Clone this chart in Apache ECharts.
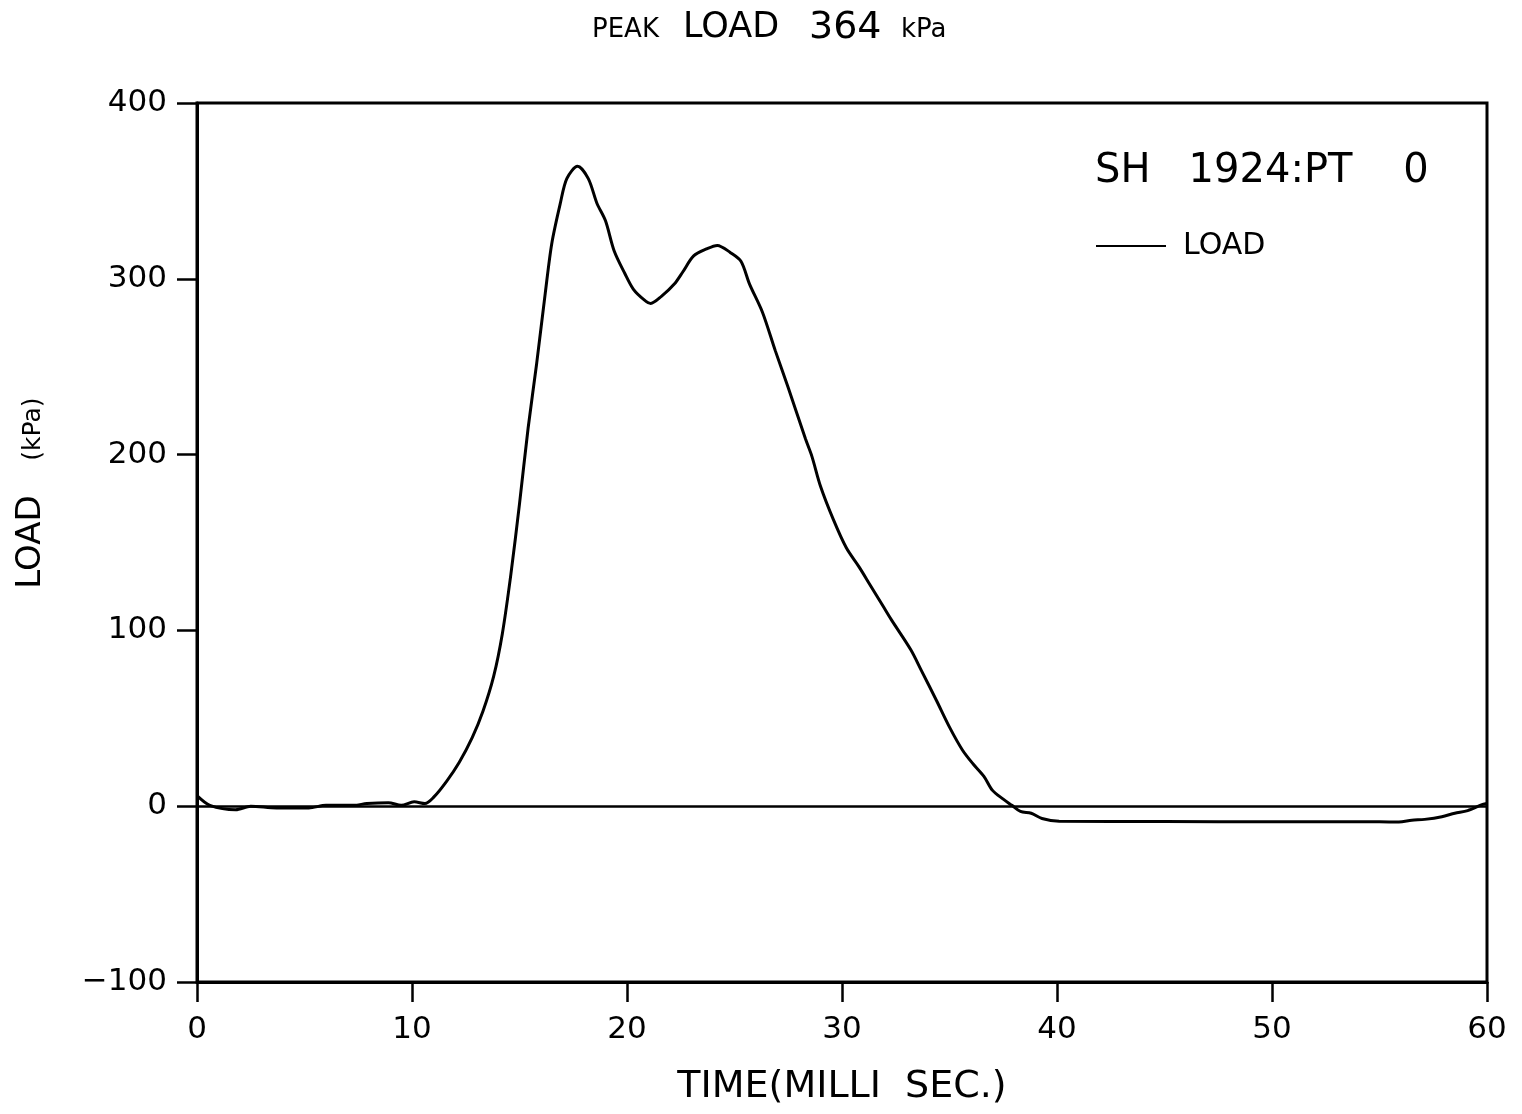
<!DOCTYPE html>
<html>
<head>
<meta charset="utf-8">
<title>Peak load 364 kPa</title>
<script src="https://cdn.jsdelivr.net/npm/echarts@6/dist/echarts.min.js"></script>
<style>
  html, body { margin: 0; padding: 0; background: #ffffff; }
  #chart { width: 1522px; height: 1114px; }
</style>
</head>
<body>
<div id="chart"></div>
<script>
// time in ms, load in kPa
const time = [0, 0.6, 1.8, 2.5, 3.7, 5.2, 6.0, 7.3, 7.9, 8.9, 9.5, 10.1, 10.6, 11.0, 11.6, 12.2, 12.8, 13.3, 13.8, 14.2,
  14.6, 15.0, 15.4, 15.8, 16.2, 16.5, 16.9, 17.2, 17.7, 18.2, 18.6, 19.0, 19.4, 19.9, 20.3, 20.8, 21.1, 21.6, 22.2, 22.6,
  23.1, 23.7, 24.2, 24.8, 25.3, 25.7, 26.3, 26.9, 27.5, 28.3, 28.6, 29.0, 29.6, 30.2, 30.8, 31.3, 31.9, 32.3, 33.2, 33.7,
  34.4, 35.0, 35.6, 36.1, 36.6, 37.0, 37.5, 37.9, 38.3, 38.8, 39.3, 40.1, 45, 50, 55, 55.9, 56.5, 57.1, 57.9, 58.5,
  59.1, 59.8, 60];
const load = [6, 0.5, -2, 0, -1, -1, 0.5, 0.5, 1.5, 2, 0.5, 2.5, 1.5, 5, 14, 25, 39, 54, 74, 98,
  132, 172, 215, 252, 292, 320, 343, 357, 364, 357, 343, 333, 316, 303, 294, 288, 286, 290, 297, 304,
  313, 317, 319, 315, 310, 297, 281, 259, 238, 209, 199, 182, 163, 147, 136, 126, 114, 106, 89, 77,
  60, 45, 32, 24, 17, 9, 4, 0.5, -3, -4, -7, -8.5, -8.7, -8.9, -8.9, -9, -8, -7.5, -6, -4,
  -2.5, 1, 1.5];

const xTicks = [0, 10, 20, 30, 40, 50, 60];
const yTicks = [-100, 0, 100, 200, 300, 400];

const seriesName = 'LOAD';
const runLabel = 'SH   1924:PT    0';

const FONT = 'DejaVu Sans';

const myChart = echarts.init(document.getElementById('chart'), null, { renderer: 'canvas' });

const points = time.map((t, i) => [t, load[i]]);

// plain text piece, y is the middle of the capitals
const txt = (x, y, text, size) => ({
  type: 'text',
  x: x,
  y: y,
  style: {
    text: text,
    fontFamily: FONT,
    fontSize: size,
    fill: '#000',
    align: 'left',
    verticalAlign: 'middle'
  }
});

const option = {
  backgroundColor: '#ffffff',
  animation: false,
  legend: {
    data: [seriesName],
    left: 1091,
    top: 226,
    itemWidth: 70,
    itemHeight: 14,
    icon: 'path://M0,6 L70,6 L70,8 L0,8 Z',
    textStyle: { fontFamily: FONT, fontSize: 30, color: '#000', padding: [0, 0, 0, 12], lineHeight: 30, verticalAlign: 'bottom' }
  },
  grid: {
    left: 197,
    top: 103,
    width: 1290,
    height: 879,
    show: true,
    borderColor: '#000',
    borderWidth: 3,
    backgroundColor: 'transparent'
  },
  xAxis: {
    type: 'value',
    min: xTicks[0],
    max: xTicks[xTicks.length - 1],
    interval: 10,
    name: 'TIME(MILLI  SEC.)',
    nameLocation: 'middle',
    nameGap: 86,
    nameTextStyle: { fontFamily: FONT, fontSize: 38, color: '#000' },
    axisLine: { show: true, onZero: false, lineStyle: { color: '#000', width: 3 } },
    axisTick: { show: true, inside: false, length: 20, lineStyle: { color: '#000', width: 2.5 } },
    axisLabel: { margin: 32, fontFamily: FONT, fontSize: 31, color: '#000' },
    splitLine: { show: false }
  },
  yAxis: {
    type: 'value',
    min: yTicks[0],
    max: yTicks[yTicks.length - 1],
    interval: 100,
    axisLine: { show: true, lineStyle: { color: '#000', width: 3 } },
    axisTick: { show: true, inside: false, length: 20, lineStyle: { color: '#000', width: 2.5 } },
    axisLabel: {
      margin: 30,
      fontFamily: FONT,
      fontSize: 31,
      color: '#000',
      formatter: v => (v < 0 ? '\u2212' + Math.abs(v) : String(v))
    },
    splitLine: { show: false }
  },
  graphic: [
    // title: PEAK LOAD 364 kPa
    txt(592, 30, 'PEAK', 26),
    txt(683, 28, 'LOAD', 35),
    txt(809, 28, '364', 38),
    txt(901, 30, 'kPa', 26),
    // run label
    txt(1095, 172, runLabel, 40),
    // y axis name
    {
      type: 'text',
      x: 31,
      y: 542,
      rotation: Math.PI / 2,
      style: { text: 'LOAD', fontFamily: FONT, fontSize: 34, fill: '#000', align: 'center', verticalAlign: 'middle' }
    },
    {
      type: 'text',
      x: 33,
      y: 429,
      rotation: Math.PI / 2,
      style: { text: '(kPa)', fontFamily: FONT, fontSize: 25, fill: '#000', align: 'center', verticalAlign: 'middle' }
    }
  ],
  series: [
    {
      name: seriesName,
      type: 'line',
      data: points,
      smooth: 0.3,
      symbol: 'none',
      lineStyle: { color: '#000', width: 3 },
      itemStyle: { color: '#000' },
      markLine: {
        silent: true,
        symbol: 'none',
        label: { show: false },
        lineStyle: { color: '#000', width: 2.5, type: 'solid' },
        data: [{ yAxis: 0 }]
      }
    }
  ]
};

myChart.setOption(option);
</script>
</body>
</html>
